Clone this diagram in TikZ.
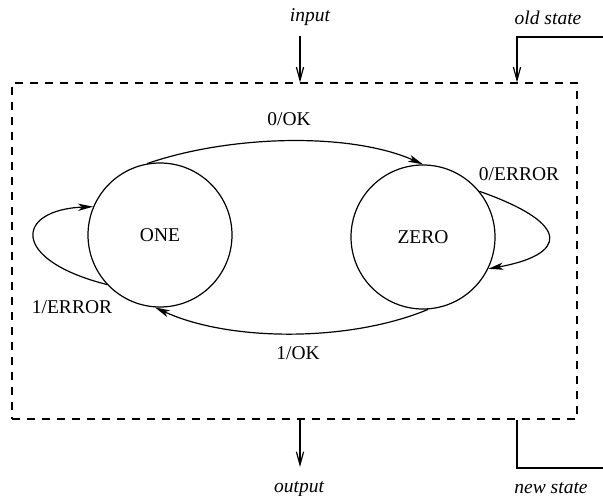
\documentclass[tikz,border=0pt]{standalone}
\usepackage{fontspec}
\setmainfont{Liberation Serif}
\usetikzlibrary{arrows.meta}

\tikzset{
  state/.style={draw, circle, minimum size=72pt, inner sep=0pt},
  trans/.style={-{Stealth[length=7.5pt, width=3.6pt, inset=2pt]}},
  io/.style={-{Straight Barb[length=6.5pt, width=3.6pt]}},
  lbl/.style={inner sep=0pt, font=\fontsize{9.75}{12}\selectfont},
  ilbl/.style={lbl, font=\fontsize{9.75}{12}\selectfont\itshape}
}

\begin{document}
\begin{tikzpicture}[x=0.5pt, y=-0.5pt, line width=0.6pt]
\useasboundingbox (0,0) rectangle (603,496);

% Dashed box
\node[draw, dash pattern=on 4pt off 3.5pt, minimum width=282.5pt,
      minimum height=168pt, inner sep=0pt] (fsm) at (294.5,251) {};

% States
\node[state, lbl] (one) at (160,235) {ONE};
\node[state, lbl] (zero) at (423,237) {ZERO};

% Transitions
\draw[trans] (one.100) .. controls (230,135) and (350,132) .. (zero.90);
\draw[trans] (zero.-86) .. controls (350,342) and (230,342) .. (one.-94);
\draw[trans] (zero.39) .. controls (575,225) and (565,255) .. (zero.-26);
\draw[trans] (one.-137) .. controls (10,260) and (15,210) .. (one.157);

% Transition labels
\node[lbl] (l0ok) at (289,119) {0/OK};
\node[lbl] (l1ok) at (298,353) {1/OK};
\node[lbl] (l0err) at (519,174) {0/ERROR};
\node[lbl] (l1err) at (72,307) {1/ERROR};

% Inputs and outputs
\coordinate (inTop) at (300,36);
\coordinate (oldEnd) at (603,37);
\coordinate (oldCorner) at (517,37);
\coordinate (outBot) at (300,467);
\coordinate (newCorner) at (517,468);
\coordinate (newEnd) at (603,468);

\draw[io] (inTop) -- (inTop |- fsm.north);
\draw[io] (oldEnd) -- (oldCorner) -- (oldCorner |- fsm.north);
\draw[io] (outBot |- fsm.south) -- (outBot);
\draw (newCorner |- fsm.south) -- (newCorner) -- (newEnd);

\node[ilbl] (input) at (310,17) {input};
\node[ilbl] (oldstate) at (548,18) {old state};
\node[ilbl] (output) at (299,489) {output};
\node[ilbl] (newstate) at (551,488) {new state};
\end{tikzpicture}
\end{document}
